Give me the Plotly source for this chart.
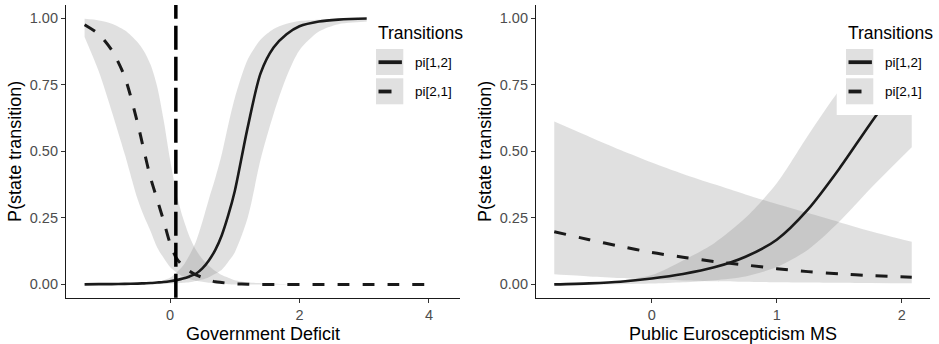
import plotly.graph_objects as go

# ---------------- data ----------------
# Left panel: Government Deficit
deficit_x = [-1.32, -1.1, -0.9, -0.7, -0.5, -0.4, -0.3, -0.2, -0.1, 0.0, 0.1, 0.2, 0.3, 0.4,
             0.5, 0.6, 0.7, 0.8, 0.9, 1.0, 1.2, 1.4, 1.6, 1.8, 2.0, 2.3, 2.6, 3.05, 3.5, 4.0]
deficit_pi12 = [0.0, 0.001, 0.001, 0.002, 0.003, 0.004, 0.005, 0.007, 0.009, 0.012, 0.016, 0.022, 0.03, 0.04,
                0.06, 0.09, 0.13, 0.185, 0.26, 0.35, 0.59, 0.794, 0.89, 0.94, 0.97, 0.988, 0.995, 0.999, 1.0, 1.0]
deficit_pi12_lo = [0.0, 0.0, 0.0, 0.0, 0.0, 0.0, 0.001, 0.001, 0.002, 0.003, 0.004, 0.006, 0.008, 0.013,
                   0.018, 0.027, 0.04, 0.055, 0.085, 0.12, 0.25, 0.47, 0.64, 0.78, 0.88, 0.95, 0.978, 0.988, 0.995, 0.998]
deficit_pi12_hi = [0.001, 0.002, 0.002, 0.003, 0.004, 0.006, 0.008, 0.01, 0.016, 0.025, 0.045, 0.07, 0.11, 0.16,
                   0.235, 0.32, 0.40, 0.49, 0.60, 0.70, 0.845, 0.92, 0.96, 0.98, 0.99, 0.995, 0.998, 1.0, 1.0, 1.0]
deficit_pi21 = [0.976, 0.94, 0.88, 0.78, 0.605, 0.50, 0.40, 0.32, 0.24, 0.155, 0.098, 0.07, 0.05, 0.036,
                0.026, 0.017, 0.01, 0.007, 0.004, 0.002, 0.001, 0.0, 0.0, 0.0, 0.0, 0.0, 0.0, 0.0, 0.0, 0.0]
deficit_pi21_lo = [0.93, 0.80, 0.65, 0.49, 0.32, 0.255, 0.20, 0.14, 0.10, 0.065, 0.045, 0.03, 0.02, 0.014,
                   0.01, 0.006, 0.004, 0.002, 0.001, 0.0, 0.0, 0.0, 0.0, 0.0, 0.0, 0.0, 0.0, 0.0, 0.0, 0.0]
deficit_pi21_hi = [0.998, 0.992, 0.98, 0.955, 0.91, 0.875, 0.825, 0.745, 0.62, 0.47, 0.34, 0.25, 0.18, 0.13,
                   0.095, 0.07, 0.05, 0.035, 0.025, 0.016, 0.008, 0.004, 0.002, 0.001, 0.0, 0.0, 0.0, 0.0, 0.0, 0.0]
deficit_threshold = [0.09]

# Right panel: Public Euroscepticism MS
euro_x = [-0.78, -0.5, -0.25, 0.0, 0.25, 0.5, 0.75, 1.0, 1.25, 1.5, 1.75, 2.08]
euro_pi12 = [0.0, 0.004, 0.01, 0.022, 0.039, 0.064, 0.104, 0.168, 0.282, 0.435, 0.605, 0.82]
euro_pi12_lo = [0.0, 0.0, 0.001, 0.003, 0.008, 0.016, 0.03, 0.065, 0.13, 0.235, 0.36, 0.515]
euro_pi12_hi = [0.002, 0.005, 0.015, 0.035, 0.09, 0.155, 0.25, 0.38, 0.56, 0.73, 0.87, 0.96]
euro_pi21 = [0.198, 0.168, 0.143, 0.12, 0.102, 0.086, 0.073, 0.059, 0.048, 0.040, 0.033, 0.027]
euro_pi21_lo = [0.038, 0.03, 0.024, 0.019, 0.015, 0.012, 0.01, 0.008, 0.007, 0.006, 0.005, 0.004]
euro_pi21_hi = [0.612, 0.555, 0.505, 0.458, 0.415, 0.376, 0.338, 0.302, 0.268, 0.234, 0.20, 0.16]

y_ticks = [0, 0.25, 0.5, 0.75, 1.0]
y_tick_labels = ["0.00", "0.25", "0.50", "0.75", "1.00"]
left_x_ticks = [0, 2, 4]
right_x_ticks = [0, 1, 2]
legend_title = "Transitions"
legend_labels = ["pi[1,2]", "pi[2,1]"]
y_title = "P(state transition)"
left_x_title = "Government Deficit"
right_x_title = "Public Euroscepticism MS"

# ---------------- styling ----------------
W, H = 939, 344
FONT = "Liberation Sans, Arial, sans-serif"
RIBBON = "rgba(127,127,127,0.24)"
LINE = "#1a1a1a"
DASH = "12px,13px"

fig = go.Figure()


def add_ribbon(xs, lo, hi, xa, ya):
    fig.add_trace(go.Scatter(x=xs, y=lo, mode="lines",
                             line=dict(width=0, color=RIBBON, shape="spline", smoothing=0.8),
                             xaxis=xa, yaxis=ya, showlegend=False, hoverinfo="skip"))
    fig.add_trace(go.Scatter(x=xs, y=hi, mode="lines",
                             line=dict(width=0, color=RIBBON, shape="spline", smoothing=0.8),
                             fill="tonexty", fillcolor=RIBBON,
                             xaxis=xa, yaxis=ya, showlegend=False, hoverinfo="skip"))


# ribbons first
add_ribbon(deficit_x, deficit_pi12_lo, deficit_pi12_hi, "x", "y")
add_ribbon(deficit_x, deficit_pi21_lo, deficit_pi21_hi, "x", "y")
add_ribbon(euro_x, euro_pi12_lo, euro_pi12_hi, "x2", "y2")
add_ribbon(euro_x, euro_pi21_lo, euro_pi21_hi, "x2", "y2")

# lines
for xs, ys, xa, ya, dash, w in [
    (deficit_x, deficit_pi12, "x", "y", "solid", 2.6),
    (deficit_x, deficit_pi21, "x", "y", DASH, 3.0),
    (euro_x, euro_pi12, "x2", "y2", "solid", 2.6),
    (euro_x, euro_pi21, "x2", "y2", DASH, 3.0),
]:
    fig.add_trace(go.Scatter(x=xs, y=ys, mode="lines",
                             line=dict(color=LINE, width=w, dash=dash, shape="spline", smoothing=0.8),
                             xaxis=xa, yaxis=ya, showlegend=False))

# vertical reference line (full panel height)
for xv in deficit_threshold:
    fig.add_shape(type="line", xref="x", yref="y domain", x0=xv, x1=xv, y0=0, y1=1,
                  line=dict(color="black", width=3.5, dash="24px,7px"), layer="above")


def px_x(p):
    return p / W


def px_y(p):
    return 1 - p / H


y_dom = [px_y(297.7), px_y(5)]
axis_common = dict(showline=True, linecolor="#1a1a1a", linewidth=1.2, ticks="outside", ticklen=4,
                   tickwidth=1.1, tickcolor="#333333", showgrid=False, zeroline=False,
                   tickfont=dict(family=FONT, size=14.5, color="#4d4d4d"),
                   title_font=dict(family=FONT, size=18, color="black"))

fig.update_layout(
    width=W, height=H, margin=dict(l=0, r=0, t=0, b=0),
    paper_bgcolor="white", plot_bgcolor="white", showlegend=False,
    xaxis=dict(domain=[px_x(66), px_x(460)], range=[-1.607, 4.48], tickvals=left_x_ticks,
               title=dict(text=left_x_title, standoff=5), anchor="y", **axis_common),
    yaxis=dict(domain=y_dom, range=[-0.05, 1.05], tickvals=y_ticks, ticktext=y_tick_labels,
               title=dict(text=y_title, standoff=3), anchor="x", **axis_common),
    xaxis2=dict(domain=[px_x(536), px_x(930)], range=[-0.926, 2.226], tickvals=right_x_ticks,
                title=dict(text=right_x_title, standoff=5), anchor="y2", **axis_common),
    yaxis2=dict(domain=y_dom, range=[-0.05, 1.05], tickvals=y_ticks, ticktext=y_tick_labels,
                title=dict(text=y_title, standoff=3), anchor="x2", **axis_common),
)

# manual legends (inside each panel, like ggplot legend.position)
key_len = [23.4, 13.0]
for off in [0, 470]:
    fig.add_shape(type="rect", xref="paper", yref="paper",
                  x0=px_x(off + 366.7), x1=px_x(min(off + 470, W)), y0=px_y(115), y1=px_y(12),
                  fillcolor="white", line=dict(width=0), layer="above")
    fig.add_annotation(xref="paper", yref="paper", x=px_x(off + 376), y=px_y(33),
                       text=legend_title, showarrow=False, xanchor="left", yanchor="middle",
                       font=dict(family=FONT, size=17.5, color="black"))
    for i, lab in enumerate(legend_labels):
        top = 49 + i * 29.3
        fig.add_shape(type="rect", xref="paper", yref="paper",
                      x0=px_x(off + 376), x1=px_x(off + 403.3), y0=px_y(top + 26), y1=px_y(top),
                      fillcolor="#e0e0e0", line=dict(width=0), layer="above")
        yk = top + 13.2
        fig.add_shape(type="line", xref="paper", yref="paper",
                      x0=px_x(off + 378.5), x1=px_x(off + 378.5 + key_len[i]), y0=px_y(yk), y1=px_y(yk),
                      line=dict(color=LINE, width=3.8), layer="above")
        fig.add_annotation(xref="paper", yref="paper", x=px_x(off + 413), y=px_y(yk),
                           text=lab, showarrow=False, xanchor="left", yanchor="middle",
                           font=dict(family=FONT, size=13.5, color="black"))

fig.write_html("out.html")
